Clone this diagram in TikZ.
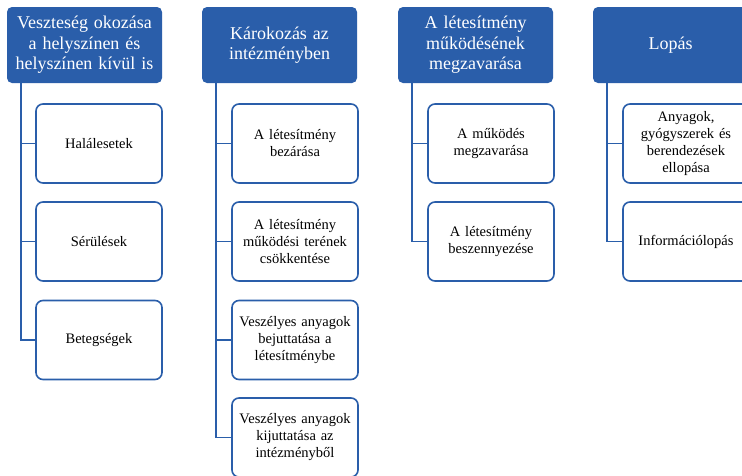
\documentclass[tikz,border=0pt]{standalone}
\usepackage{fontspec}
\setmainfont{Liberation Serif}
\definecolor{hblue}{HTML}{2A5EAA}
\begin{document}
\begin{tikzpicture}[x=1pt,y=-1pt,
  head/.style={fill=hblue,text=white,rounded corners=5pt,minimum width=155pt,
    minimum height=76pt,text width=152pt,align=center,inner sep=1pt,
    font=\fontsize{18}{20.5}\selectfont},
  leaf/.style={draw=hblue,fill=white,line width=1.6pt,rounded corners=7pt,
    minimum width=126pt,minimum height=79pt,text width=122pt,align=center,
    inner sep=1pt,font=\fontsize{14.5}{17}\selectfont},
  link/.style={draw=hblue,line width=1.6pt}]
  \clip (0,0) rectangle (742,475);
  \fill[white] (0,0) rectangle (742,475);
  % headers
  \node[head] (h1) at (84.5,45) {Veszteség okozása a~helyszínen és helyszínen kívül is};
  \node[head] (h2) at (279.5,45) {Károkozás az\\intézményben};
  \node[head] (h3) at (475.5,45) {A létesítmény\\működésének\\megzavarása};
  \node[head] (h4) at (670.5,45) {Lopás};
  % leaves
  \node[leaf] (a1) at (99,143.5) {Halálesetek};
  \node[leaf] (a2) at (99,241.5) {Sérülések};
  \node[leaf] (a3) at (99,340) {Betegségek};
  \node[leaf] (b1) at (295,143.5) {A létesítmény\\bezárása};
  \node[leaf] (b2) at (295,241.5) {A létesítmény\\működési terének\\csökkentése};
  \node[leaf] (b3) at (295,340) {Veszélyes anyagok\\bejuttatása a\\létesítménybe};
  \node[leaf] (b4) at (295,437.5) {Veszélyes anyagok\\kijuttatása az\\intézményből};
  \node[leaf] (c1) at (491,143.5) {A működés\\megzavarása};
  \node[leaf] (c2) at (491,241.5) {A létesítmény\\beszennyezése};
  \node[leaf] (d1) at (686,143.5) {Anyagok,\\gyógyszerek és\\berendezések\\ellopása};
  \node[leaf] (d2) at (686,241.5) {Információlopás};
  % connectors
  \foreach \h/\l in {h1/a1,h1/a2,h1/a3,h2/b1,h2/b2,h2/b3,h2/b4,h3/c1,h3/c2,h4/d1,h4/d2}
    \draw[link] ([xshift=14pt]\h.south west) |- (\l.west);
\end{tikzpicture}
\end{document}
